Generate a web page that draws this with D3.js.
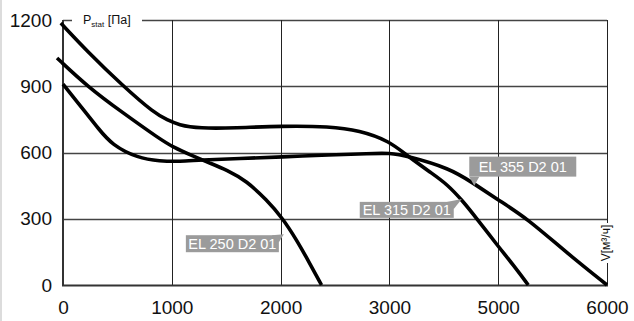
<!DOCTYPE html>
<html><head><meta charset="utf-8">
<script src="https://cdn.jsdelivr.net/npm/d3@7"></script>
<style>
html,body{margin:0;padding:0;background:#fff;}
svg{display:block;font-family:"Liberation Sans",Arial,sans-serif;}
</style></head>
<body>
<svg id="chart" width="634" height="321"></svg>
<script>
// ---- data ----
const xTicks = [0, 1000, 2000, 3000, 5000, 6000];
const xTickLabels = ["0", "1000", "2000", "3000", "5000", "6000"];
const yTicks = [0, 300, 600, 900, 1200];
const yTickLabels = ["0", "300", "600", "900", "1200"];
const seriesNames = ["EL 250 D2 01", "EL 315 D2 01", "EL 355 D2 01"];

const el250Flow = [-55, 229, 541, 890, 1009, 1193, 1349, 1505, 1688, 1872, 2018, 2147, 2266, 2376];
const el250Pres = [1028, 897, 783, 661, 625, 584, 552, 521, 471, 385, 303, 204, 100, 0];

const el315Flow = [-20, 229, 541, 844, 960, 1060, 1257, 1578, 2009, 2450, 2725, 3000, 3333, 3796, 4056, 4352, 4611, 4981, 5138, 5276];
const el315Pres = [1186, 1055, 906, 776, 748, 725, 709, 711, 720, 718, 700, 652, 584, 503, 457, 380, 299, 181, 91, 0];

const el355Flow = [0, 220, 321, 450, 688, 890, 1073, 1257, 1624, 2009, 2450, 2817, 3000, 3333, 4111, 4537, 5000, 5266, 5633, 6000];
const el355Pres = [910, 774, 711, 634, 575, 561, 559, 566, 573, 580, 589, 595, 598, 584, 528, 462, 385, 302, 144, 0];

const yAxisTitle = ["P", "stat", " [Па]"];
const xAxisTitle = "V[м³/ч]";

(function () {
// ---- layout ----
const svg = d3.select("#chart");
const mLeft = 63, mRight = 607, mTop = 20, mBottom = 285;
const step = (mRight - mLeft) / (xTicks.length - 1);
const x = d3.scaleLinear().domain(xTicks).range(xTicks.map((d, i) => mLeft + i * step));
const y = d3.scaleLinear().domain([0, 1200]).range([mBottom, mTop]);
const FONT = "Liberation Sans, Arial, sans-serif";

// left page border
svg.append("line").attr("x1", 1).attr("x2", 1).attr("y1", 0).attr("y2", 321)
  .attr("stroke", "#dcdcdc").attr("stroke-width", 2);

// horizontal grid
svg.append("g").selectAll("line").data(yTicks.filter(d => d > 0)).join("line")
  .attr("x1", mLeft).attr("x2", mRight)
  .attr("y1", d => Math.round(y(d)) + 0.5).attr("y2", d => Math.round(y(d)) + 0.5)
  .attr("stroke", "#444").attr("stroke-width", 1.4);

// vertical grid
svg.append("g").selectAll("line").data(xTicks.filter(d => d > 0)).join("line")
  .attr("x1", d => Math.round(x(d)) + 0.5).attr("x2", d => Math.round(x(d)) + 0.5)
  .attr("y1", y(1200)).attr("y2", y(0))
  .attr("stroke", "#222").attr("stroke-width", 1);

// axes lines
svg.append("line").attr("x1", mLeft).attr("x2", mLeft).attr("y1", mTop).attr("y2", mBottom + 1)
  .attr("stroke", "#333").attr("stroke-width", 2);
svg.append("line").attr("x1", mLeft - 1).attr("x2", mRight + 1).attr("y1", mBottom + 0.5).attr("y2", mBottom + 0.5)
  .attr("stroke", "#333").attr("stroke-width", 2);

// y-axis title (gap in top line)
svg.append("rect").attr("x", 72).attr("y", 12).attr("width", 70).attr("height", 16).attr("fill", "#fff");
const yt = svg.append("text").attr("x", 83).attr("y", 24).attr("fill", "#111").attr("font-size", 12.5);
yt.append("tspan").text(yAxisTitle[0]);
yt.append("tspan").attr("font-size", 8).attr("dy", 3).text(yAxisTitle[1]);
yt.append("tspan").attr("dy", -3).text(yAxisTitle[2]);

// x-axis title (rotated, gap in right line)
svg.append("rect").attr("x", 598).attr("y", 223).attr("width", 16).attr("height", 40).attr("fill", "#fff");
svg.append("text").attr("transform", `translate(${mRight + 3},243) rotate(-90)`)
  .attr("text-anchor", "middle").attr("font-size", 12).attr("fill", "#111").text(xAxisTitle);

// tick labels
const xa = svg.append("g").attr("transform", `translate(0,${mBottom})`)
  .call(d3.axisBottom(x).tickValues(xTicks).tickFormat((d, i) => xTickLabels[i]).tickSize(0).tickPadding(16));
xa.select(".domain").remove();
xa.attr("font-family", FONT);
xa.selectAll("text").attr("font-size", 19).attr("fill", "#111");

const ya = svg.append("g").attr("transform", `translate(${mLeft},0)`)
  .call(d3.axisLeft(y).tickValues(yTicks).tickFormat((d, i) => yTickLabels[i]).tickSize(0).tickPadding(11));
ya.select(".domain").remove();
ya.attr("font-family", FONT);
ya.selectAll("text").attr("font-size", 19).attr("fill", "#111");

// curves
const line = d3.line().x(d => x(d[0])).y(d => y(d[1])).curve(d3.curveBasis);
const series = [
  d3.zip(el250Flow, el250Pres),
  d3.zip(el315Flow, el315Pres),
  d3.zip(el355Flow, el355Pres)
];
svg.append("g").selectAll("path").data(series).join("path")
  .attr("d", line).attr("fill", "none").attr("stroke", "#000").attr("stroke-width", 3.6)
  .attr("stroke-linecap", "butt");

// labels: anchor (tip) in data units, box offset in px
const labelLayout = [
  { tip: [2030, 230], box: [-98, 1, 93, 17], ptr: "tr" },
  { tip: [4330, 390], box: [-102, 3, 94, 16], ptr: "tr" },
  { tip: [4560, 450], box: [-5, -29, 107, 20], ptr: "bl" }
];
const lg = svg.append("g").attr("font-family", FONT);
labelLayout.forEach((L, i) => {
  const tx = x(L.tip[0]), ty = y(L.tip[1]);
  const bx = tx + L.box[0], by = ty + L.box[1], bw = L.box[2], bh = L.box[3];
  lg.append("rect").attr("x", bx).attr("y", by).attr("width", bw).attr("height", bh).attr("fill", "#9b9b9b");
  let pts;
  if (L.ptr === "tr") pts = [[bx + bw - 7, by], [tx, ty], [bx + bw, by + 7]];
  else pts = [[bx, by + bh], [bx + 10, by + bh], [tx, ty]];
  lg.append("polygon").attr("points", pts.map(p => p.join(",")).join(" ")).attr("fill", "#9b9b9b");
  lg.append("text").attr("x", bx + bw / 2).attr("y", by + bh / 2).attr("dy", "0.36em")
    .attr("text-anchor", "middle").attr("font-size", 14.5).attr("fill", "#fff").text(seriesNames[i]);
});
})();
</script>
</body></html>
